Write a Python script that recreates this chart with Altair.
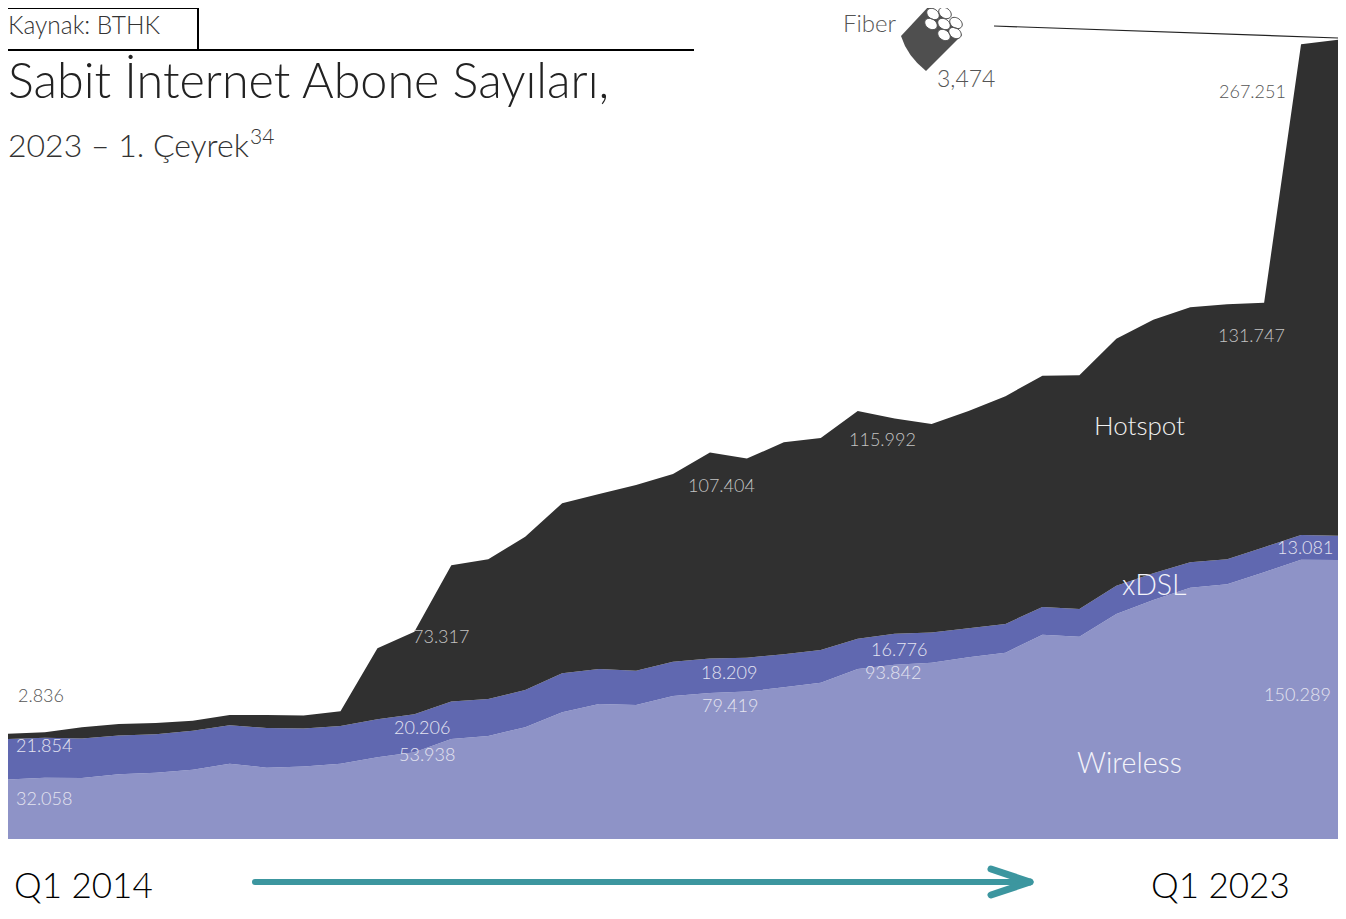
import math
import altair as alt
import pandas as pd

quarters = [f"Q{q} {y}" for y in range(2014, 2023) for q in (1, 2, 3, 4)] + ["Q1 2023"]

wireless = [32058, 33000, 32900, 34900, 35700, 37300, 40600, 38400, 39000, 40600, 44000, 46700,
            53938, 55500, 60200, 68300, 72700, 72200, 77000, 78700, 79419, 81700, 84200, 91600,
            93842, 95000, 97900, 100400, 110100, 109000, 121200, 128800, 135400, 137200, 143700,
            150500, 150289]
xdsl = [21854, 21600, 21200, 20800, 20700, 21000, 20700, 21400, 20500, 20300, 20500, 20500,
        20206, 19900, 20100, 21000, 18900, 18500, 18500, 18500, 18209, 17900, 17600, 16300,
        16776, 16200, 15600, 15500, 14900, 14900, 15200, 14400, 13700, 13500, 13500, 13300,
        13081]
hotspot = [2836, 2900, 6100, 6300, 6100, 5400, 5500, 7000, 7000, 7900, 38300, 44500,
           73317, 75300, 82600, 91600, 94300, 100100, 101100, 111000, 107404, 114100, 114200, 122700,
           115992, 112400, 117100, 122700, 124600, 125900, 133100, 136600, 137400, 137400, 131747, 264400,
           267251]
series_names = ["Wireless", "xDSL", "Hotspot"]
series_colors = ["#8e93c7", "#6068b0", "#303030"]

rows = []
for rank, (name, vals) in enumerate(zip(series_names, [wireless, xdsl, hotspot])):
    for q, v in zip(quarters, vals):
        rows.append({"quarter": q, "series": name, "value": v, "rank": rank})
df = pd.DataFrame(rows)

W, H = 1330, 831
PX_PER_UNIT = 1.856 / 1000

FONT = "Lato"

area = alt.Chart(df).mark_area(interpolate="linear").encode(
    x=alt.X("quarter:N", sort=quarters, axis=None, scale=alt.Scale(type="point", padding=0)),
    y=alt.Y("value:Q", stack="zero", axis=None, scale=alt.Scale(domain=[0, H / PX_PER_UNIT], nice=False)),
    color=alt.Color("series:N", legend=None,
                    scale=alt.Scale(domain=series_names, range=series_colors)),
    order=alt.Order("rank:Q"),
)


def label(text, px, py, size, color, font=FONT, weight=300, opacity=1):
    return alt.Chart(df.head(1)).mark_text(
        text=text, align="left", baseline="alphabetic", font=font, fontSize=size,
        fontWeight=weight, color=color, opacity=opacity,
    ).encode(x=alt.value(px - 8), y=alt.value(py - 8))


def segment(x1, y1, x2, y2, color, width, cap="butt"):
    return alt.Chart(df.head(1)).mark_rule(color=color, strokeWidth=width, strokeCap=cap).encode(
        x=alt.value(x1 - 8), x2=alt.value(x2 - 8), y=alt.value(y1 - 8), y2=alt.value(y2 - 8)
    )


def ellipse_path(cx, cy, rx, ry, rot):
    k = 0.5523
    c, s = math.cos(rot), math.sin(rot)
    def p(x, y):
        return f"{cx + x * c - y * s:.4f} {cy + x * s + y * c:.4f}"
    return (f"M{p(rx, 0)}C{p(rx, k * ry)} {p(k * rx, ry)} {p(0, ry)}"
            f"C{p(-k * rx, ry)} {p(-rx, k * ry)} {p(-rx, 0)}"
            f"C{p(-rx, -k * ry)} {p(-k * rx, -ry)} {p(0, -ry)}"
            f"C{p(k * rx, -ry)} {p(rx, -k * ry)} {p(rx, 0)}Z")


ICON_CX, ICON_CY, ICON_S = 932, 38, 40
body_path = "M-0.05 -0.825L-0.775 -0.05Q-0.62 0.45 -0.15 0.825L0.75 -0.075Z"
hole_centres = [(933, 14), (945, 13), (931, 24), (944, 24), (956, 23), (944, 35), (955, 33)]
holes_path = "".join(
    ellipse_path((x - ICON_CX) / ICON_S, (y - ICON_CY) / ICON_S, 0.17, 0.125, math.radians(35))
    for x, y in hole_centres
)
icon_body = alt.Chart(df.head(1)).mark_point(
    shape=body_path, filled=True, color="#4f4f4f", size=(2 * ICON_S) ** 2, opacity=1, strokeWidth=0
).encode(x=alt.value(ICON_CX - 8), y=alt.value(ICON_CY - 8))
icon_holes = alt.Chart(df.head(1)).mark_point(
    shape=holes_path, filled=True, fill="#ffffff", stroke="#4f4f4f", strokeWidth=1,
    size=(2 * ICON_S) ** 2, opacity=1
).encode(x=alt.value(ICON_CX - 8), y=alt.value(ICON_CY - 8))

LIGHT = "#e4e4f0"
GREY = "#c4c4c4"
DARKTXT = "#555555"
VAL = 18
layers = [
    area,
    # header rules
    segment(8, 8, 198, 8, "#000000", 2),
    segment(198, 7, 198, 50, "#000000", 2),
    segment(8, 50, 694, 50, "#000000", 2),
    label("Kaynak: BTHK", 8, 34, 24.5, "#333333"),
    label("Sabit İnternet Abone Sayıları,", 8, 98, 48.5, "#222222"),
    label("2023 – 1. Çeyrek", 8, 157, 32, "#333333"),
    label("34", 250, 144, 21, "#333333"),
    # values
    label("2.836", 18, 702, VAL, DARKTXT),
    label("21.854", 16, 752, VAL, LIGHT),
    label("32.058", 16, 805, VAL, LIGHT),
    label("20.206", 394, 734, VAL, LIGHT),
    label("53.938", 399, 761, VAL, LIGHT),
    label("73.317", 413, 643, VAL, GREY),
    label("18.209", 701, 679, VAL, LIGHT),
    label("79.419", 702, 712, VAL, LIGHT),
    label("107.404", 688, 492, VAL, GREY),
    label("115.992", 849, 446, VAL, GREY),
    label("16.776", 871, 656, VAL, LIGHT),
    label("93.842", 865, 679, VAL, LIGHT),
    label("131.747", 1218, 342, VAL, GREY),
    label("13.081", 1277, 554, VAL, LIGHT),
    label("150.289", 1264, 701, VAL, LIGHT),
    label("267.251", 1219, 98, VAL, DARKTXT),
    label("3,474", 937, 87, 23, DARKTXT),
    # series names
    label("Hotspot", 1094, 435, 26, "#f0f0f0"),
    label("xDSL", 1122, 595, 28.5, "#f4f4fa"),
    label("Wireless", 1077, 773, 28.5, "#f4f4fa"),
    label("Fiber", 843, 32, 24, DARKTXT),
    # fiber icon and leader
    icon_body,
    icon_holes,
    segment(994, 26, 1338, 38, "#222222", 1.2),
    # time arrow
    label("Q1 2014", 14, 898, 35, "#000000", weight=300),
    label("Q1 2023", 1151, 898, 35, "#000000", weight=300),
    segment(255, 882, 1028, 882, "#3c969f", 6, "round"),
    segment(991, 869, 1030, 882, "#3c969f", 7, "round"),
    segment(991, 895, 1030, 882, "#3c969f", 7, "round"),
]

chart = alt.layer(*layers).properties(
    width=W, height=H,
    padding={"left": 0, "top": 0, "right": 0, "bottom": 78},
    autosize=alt.AutoSizeParams(type="none"),
    background="#ffffff",
).configure_view(stroke=None)

chart.save("out.html", embed_options={"renderer": "svg", "actions": False})
